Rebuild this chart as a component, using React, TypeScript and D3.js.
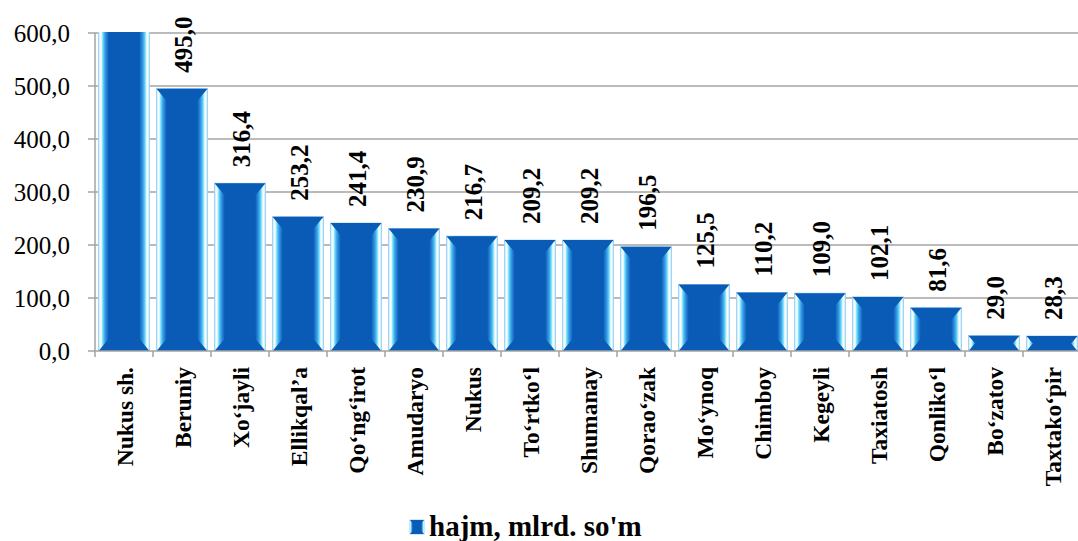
import * as d3 from "d3";

const districts = [
  "Nukus sh.", "Beruniy", "Xo‘jayli", "Ellikqal’a", "Qo‘ng‘irot", "Amudaryo", "Nukus",
  "To‘rtko‘l", "Shumanay", "Qorao‘zak", "Mo‘ynoq", "Chimboy", "Kegeyli", "Taxiatosh",
  "Qonliko‘l", "Bo‘zatov", "Taxtako‘pir",
];
// first value runs past the top of the axis and is cut off in the picture
const volumes = [1065.0, 495.0, 316.4, 253.2, 241.4, 230.9, 216.7, 209.2, 209.2, 196.5, 125.5, 110.2, 109.0, 102.1, 81.6, 29.0, 28.3];
const yTicks = [0, 100, 200, 300, 400, 500, 600];
const seriesName = "hajm, mlrd. so'm";

const FONT = "Liberation Serif";
const GRID = "#a3a3a3";
const fmt = (v: number) => v.toFixed(1).replace(".", ",");

const width = 1078;
const height = 541;
const marginLeft = 95;
const plotRight = 1081;
const plotTop = 33;
const plotBottom = 351;

function bevelPath(x: number, y: number, w: number, h: number) {
  let by = 13;
  let bx = 11;
  if (by > h / 2) {
    bx = (bx * (h / 2)) / by;
    by = h / 2;
  }
  return `M${x},${y}L${x + w},${y}L${x + w - bx},${y + by}L${x + w - bx},${y + h - by}` +
    `L${x + w},${y + h}L${x},${y + h}L${x + bx},${y + h - by}L${x + bx},${y + by}Z`;
}

// light stripes on the bevelled sides of each bar
const sideStops: [number, string][] = [
  [0, "#a6daf6"], [0.025, "#e6f7ff"], [0.05, "#ffffff"], [0.08, "#86e2fb"], [0.11, "#44b8ee"],
  [0.15, "#2a86d9"], [0.2, "#0b5db6"],
  [0.8, "#0b5db6"], [0.85, "#2a86d9"], [0.89, "#44b8ee"], [0.92, "#86e2fb"], [0.95, "#ffffff"],
  [0.975, "#e6f7ff"], [1, "#a6daf6"],
];

export default function App() {
  const x = d3.scaleBand().domain(districts).range([marginLeft, plotRight]).paddingInner(0.12).paddingOuter(0.06);
  const y = d3.scaleLinear().domain([0, 600]).range([plotBottom, plotTop]);
  const bw = x.bandwidth();
  const step = x.step();

  return (
    <div style={{ position: "absolute", left: 0, top: 0, background: "#fff" }}>
      <svg width={width} height={height} style={{ display: "block" }}>
        <defs>
          <linearGradient id="sideGrad" x1={0} x2={1} y1={0} y2={0}>
            {sideStops.map(([o, c]) => <stop key={o} offset={o} stopColor={c} />)}
          </linearGradient>
          <clipPath id="plotClip">
            <rect x={marginLeft} y={plotTop - 1} width={plotRight - marginLeft} height={plotBottom - plotTop + 1} />
          </clipPath>
        </defs>

        {yTicks.slice(1).map((t) => (
          <line key={t} x1={marginLeft} x2={plotRight} y1={y(t)} y2={y(t)} stroke={GRID} strokeWidth={1.5} />
        ))}

        <g clipPath="url(#plotClip)">
          {districts.map((name, i) => {
            const bx = x(name) || 0;
            const top = y(volumes[i]);
            const h = plotBottom - top;
            return (
              <g key={name}>
                <rect x={bx} y={top} width={bw} height={h} fill="url(#sideGrad)" stroke="#9fd4f5" strokeWidth={1} />
                <path d={bevelPath(bx, top, bw, h)} fill="#0a5bb5" />
              </g>
            );
          })}
        </g>

        {/* y axis */}
        <line x1={marginLeft} x2={marginLeft} y1={plotTop} y2={plotBottom} stroke={GRID} strokeWidth={1.5} />
        {yTicks.map((t) => (
          <g key={t}>
            <line x1={marginLeft - 7} x2={marginLeft} y1={y(t)} y2={y(t)} stroke={GRID} strokeWidth={1.5} />
            <text x={70} y={y(t)} textAnchor="end" dominantBaseline="central" fontFamily={FONT} fontSize={25} fill="#000">
              {fmt(t)}
            </text>
          </g>
        ))}

        {/* x axis */}
        <line x1={marginLeft} x2={plotRight} y1={plotBottom} y2={plotBottom} stroke={GRID} strokeWidth={1.5} />
        {d3.range(districts.length + 1).map((k) => (
          <line key={k} x1={marginLeft + k * step} x2={marginLeft + k * step} y1={plotBottom} y2={plotBottom + 6} stroke={GRID} strokeWidth={1.5} />
        ))}
        {districts.map((name) => (
          <text key={name} transform={`translate(${(x(name) || 0) + bw / 2 + 1},${plotBottom + 16}) rotate(-90)`}
            textAnchor="end" dominantBaseline="central" fontFamily={FONT} fontSize={23.5} fontWeight="bold" fill="#000">
            {name}
          </text>
        ))}

        {/* value labels; the one above the axis maximum is not shown */}
        {districts.map((name, i) => volumes[i] <= 600 && (
          <text key={name} transform={`translate(${(x(name) || 0) + bw / 2 + 1},${y(volumes[i]) - 16}) rotate(-90)`}
            textAnchor="start" dominantBaseline="central" fontFamily={FONT} fontSize={25} fontWeight="bold" fill="#000">
            {fmt(volumes[i])}
          </text>
        ))}

        {/* legend */}
        <g transform="translate(410,520)">
          <rect width={14} height={14} fill="url(#sideGrad)" stroke="#9fd4f5" />
          <path d={bevelPath(0, 0, 14, 14)} fill="#0a5bb5" />
          <text x={19} y={16} fontFamily={FONT} fontSize={29} fontWeight="bold" fill="#000">{seriesName}</text>
        </g>
      </svg>
    </div>
  );
}
